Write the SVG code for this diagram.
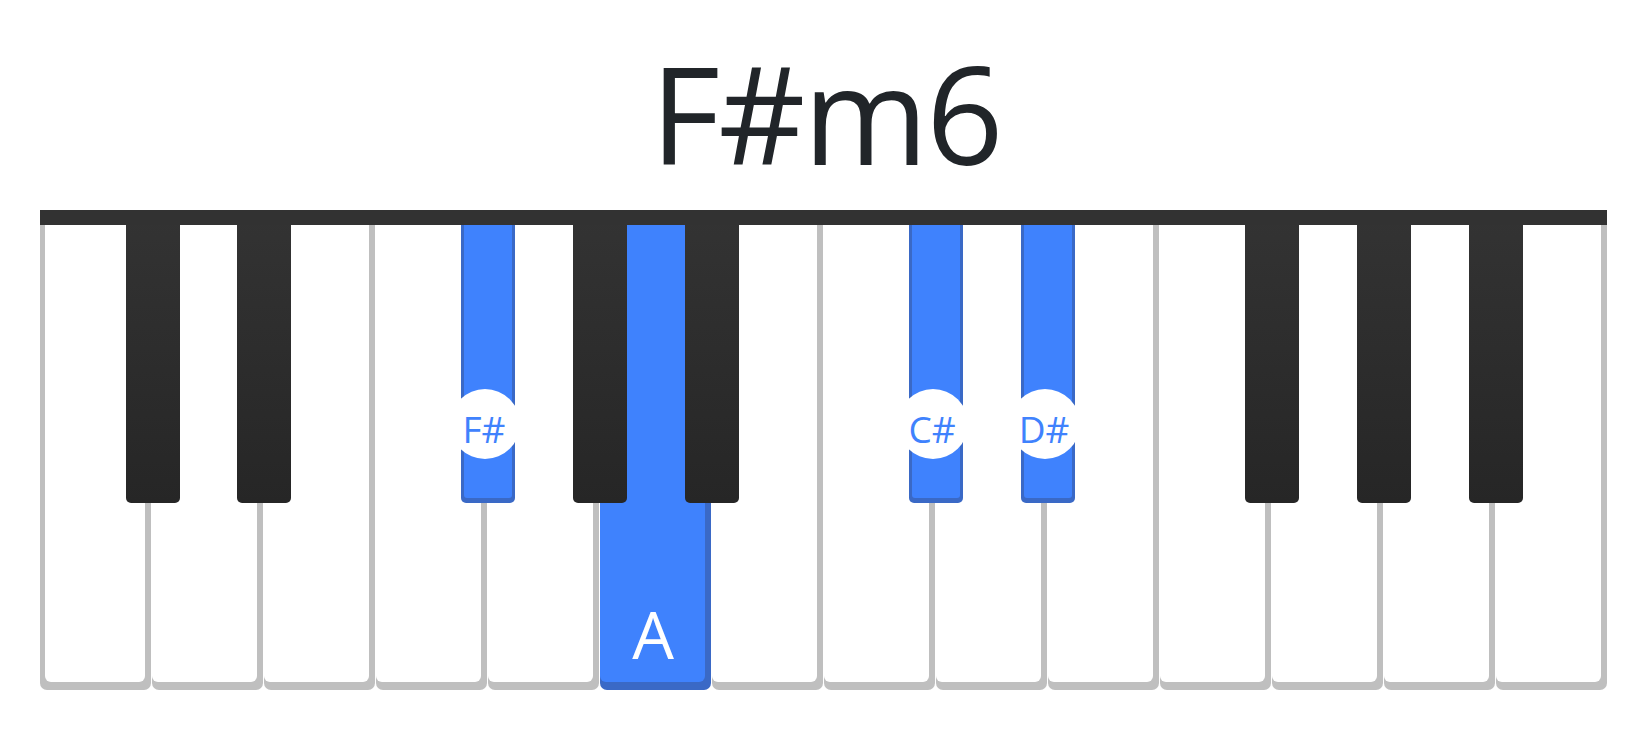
<svg xmlns="http://www.w3.org/2000/svg" width="1650" height="740" viewBox="0 0 1650 740">
<defs>
<linearGradient id="blk" x1="0" y1="0" x2="0" y2="1">
<stop offset="0" stop-color="#333333"/>
<stop offset="1" stop-color="#262626"/>
</linearGradient>
<style>
.wb{fill:#bfbfbf}
.wf{fill:#ffffff}
.hb{fill:#3a69c6}
.hf{fill:#3f82fd}
.bk{fill:url(#blk)}
.lbl{fill:#ffffff}
.ltx{font-family:"Open Sans","Noto Sans",sans-serif;font-size:37px;fill:#3f82fd;text-anchor:middle}
.atx{font-family:"Open Sans","Noto Sans",sans-serif;font-size:66px;fill:#ffffff;text-anchor:middle}
.ttl{font-family:"Open Sans","Noto Sans",sans-serif;font-size:135px;letter-spacing:-2px;fill:#212529;text-anchor:middle}
</style>
</defs>
<rect width="1650" height="740" fill="#ffffff"/>
<text class="ttl" x="826" y="165">F#m6</text>
<g id="white-keys">
<g id="w1"><rect class="wb" x="40" y="215" width="111" height="475" rx="7"/><rect class="wf" x="45" y="215" width="100" height="467" rx="6"/></g>
<g id="w2"><rect class="wb" x="152" y="215" width="111" height="475" rx="7"/><rect class="wf" x="152" y="215" width="105" height="467" rx="6"/></g>
<g id="w3"><rect class="wb" x="264" y="215" width="111" height="475" rx="7"/><rect class="wf" x="264" y="215" width="105" height="467" rx="6"/></g>
<g id="w4"><rect class="wb" x="376" y="215" width="111" height="475" rx="7"/><rect class="wf" x="376" y="215" width="105" height="467" rx="6"/></g>
<g id="w5"><rect class="wb" x="488" y="215" width="111" height="475" rx="7"/><rect class="wf" x="488" y="215" width="105" height="467" rx="6"/></g>
<g id="w6-A"><rect class="hb" x="600" y="215" width="111" height="475" rx="7"/><rect class="hf" x="600" y="215" width="105" height="467" rx="6"/><text class="atx" x="653" y="659">A</text></g>
<g id="w7"><rect class="wb" x="712" y="215" width="111" height="475" rx="7"/><rect class="wf" x="712" y="215" width="105" height="467" rx="6"/></g>
<g id="w8"><rect class="wb" x="824" y="215" width="111" height="475" rx="7"/><rect class="wf" x="824" y="215" width="105" height="467" rx="6"/></g>
<g id="w9"><rect class="wb" x="936" y="215" width="111" height="475" rx="7"/><rect class="wf" x="936" y="215" width="105" height="467" rx="6"/></g>
<g id="w10"><rect class="wb" x="1048" y="215" width="111" height="475" rx="7"/><rect class="wf" x="1048" y="215" width="105" height="467" rx="6"/></g>
<g id="w11"><rect class="wb" x="1160" y="215" width="111" height="475" rx="7"/><rect class="wf" x="1160" y="215" width="105" height="467" rx="6"/></g>
<g id="w12"><rect class="wb" x="1272" y="215" width="111" height="475" rx="7"/><rect class="wf" x="1272" y="215" width="105" height="467" rx="6"/></g>
<g id="w13"><rect class="wb" x="1384" y="215" width="111" height="475" rx="7"/><rect class="wf" x="1384" y="215" width="105" height="467" rx="6"/></g>
<g id="w14"><rect class="wb" x="1496" y="215" width="111" height="475" rx="7"/><rect class="wf" x="1496" y="215" width="105" height="467" rx="6"/></g>
</g>
<g id="black-keys">
<g id="b1"><rect class="bk" x="126" y="215" width="54" height="288" rx="5"/></g>
<g id="b2"><rect class="bk" x="237" y="215" width="54" height="288" rx="5"/></g>
<g id="b3-Fs"><rect class="hb" x="461" y="215" width="54" height="288" rx="5"/><rect class="hf" x="464" y="215" width="48" height="283" rx="3"/><circle class="lbl" cx="485" cy="424" r="35"/><text class="ltx" x="484" y="443">F#</text></g>
<g id="b4"><rect class="bk" x="573" y="215" width="54" height="288" rx="5"/></g>
<g id="b5"><rect class="bk" x="685" y="215" width="54" height="288" rx="5"/></g>
<g id="b6-Cs"><rect class="hb" x="909" y="215" width="54" height="288" rx="5"/><rect class="hf" x="912" y="215" width="48" height="283" rx="3"/><circle class="lbl" cx="933" cy="424" r="35"/><text class="ltx" x="932" y="443">C#</text></g>
<g id="b7-Ds"><rect class="hb" x="1021" y="215" width="54" height="288" rx="5"/><rect class="hf" x="1024" y="215" width="48" height="283" rx="3"/><circle class="lbl" cx="1045" cy="424" r="35"/><text class="ltx" x="1044" y="443">D#</text></g>
<g id="b8"><rect class="bk" x="1245" y="215" width="54" height="288" rx="5"/></g>
<g id="b9"><rect class="bk" x="1357" y="215" width="54" height="288" rx="5"/></g>
<g id="b10"><rect class="bk" x="1469" y="215" width="54" height="288" rx="5"/></g>
</g>
<rect id="top-bar" x="40" y="210" width="1567" height="15" fill="#323232"/>
</svg>
